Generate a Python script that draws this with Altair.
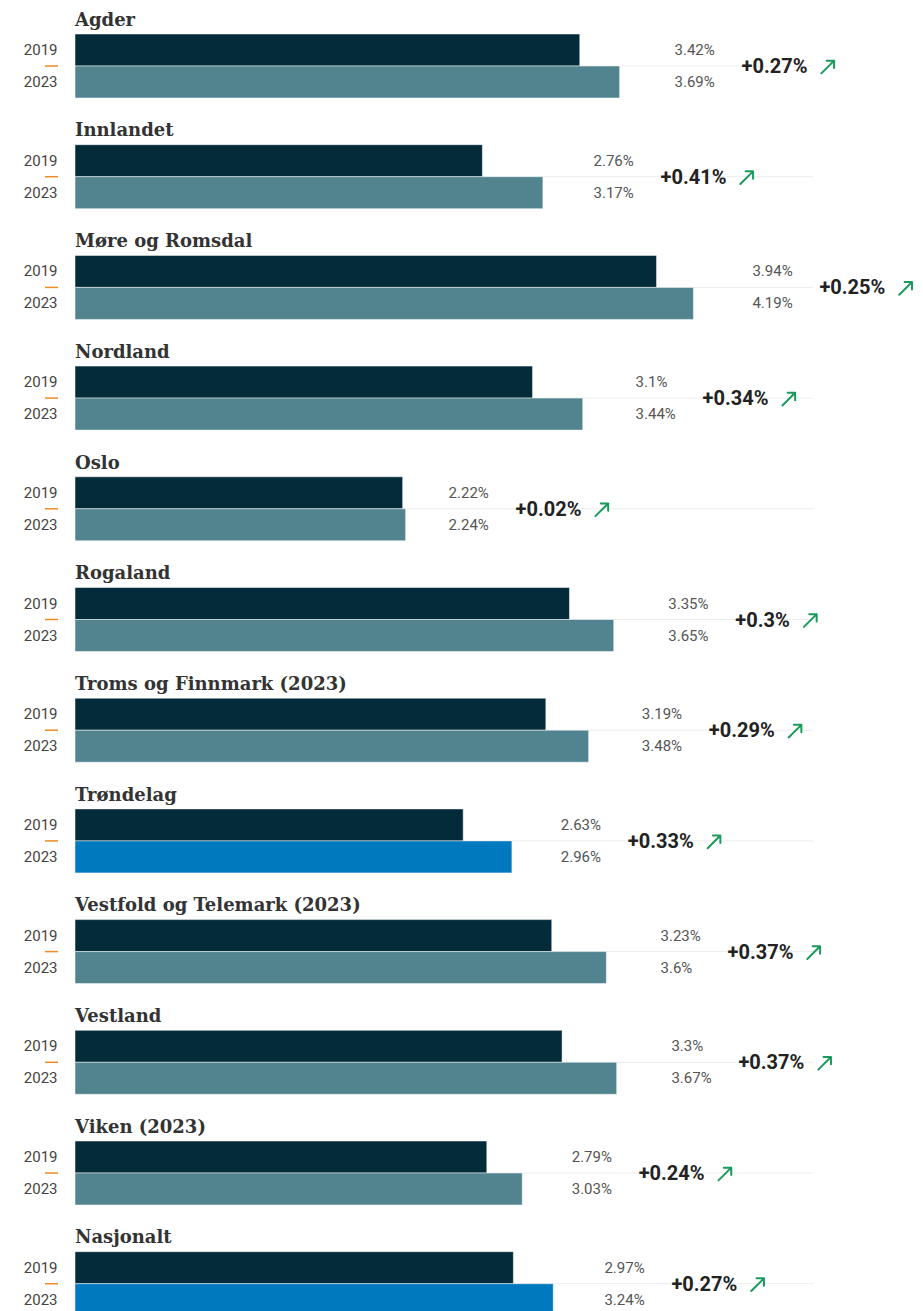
import altair as alt
import pandas as pd

regions = ["Agder", "Innlandet", "Møre og Romsdal", "Nordland", "Oslo", "Rogaland",
           "Troms og Finnmark (2023)", "Trøndelag", "Vestfold og Telemark (2023)",
           "Vestland", "Viken (2023)", "Nasjonalt"]
v2019 = [3.42, 2.76, 3.94, 3.1, 2.22, 3.35, 3.19, 2.63, 3.23, 3.3, 2.79, 2.97]
v2023 = [3.69, 3.17, 4.19, 3.44, 2.24, 3.65, 3.48, 2.96, 3.6, 3.67, 3.03, 3.24]
deltas = ["+0.27%", "+0.41%", "+0.25%", "+0.34%", "+0.02%", "+0.3%",
          "+0.29%", "+0.33%", "+0.37%", "+0.37%", "+0.24%", "+0.27%"]
years = ["2019", "2023"]
highlight = ["Trøndelag", "Nasjonalt"]

C19 = "#042b3a"
C23 = "#528490"
CHL = "#0079bf"

W = 738
H = 64
PX = W / 5.0
ARROW = "M -0.9 0.9 L 0.9 -0.9 M -0.15 -0.9 L 0.9 -0.9 L 0.9 0.15"

rows = []
for r, a, b, d in zip(regions, v2019, v2023, deltas):
    for y, v in zip(years, [a, b]):
        key = y
        if y == "2023" and r in highlight:
            key = "hl"
        rows.append({"region": r, "year": y, "value": v, "v2023": b,
                     "label": f"{v}%", "delta": d, "key": key})
df = pd.DataFrame(rows)

charts = []
for r in regions:
    sub = df[df.region == r]
    base = alt.Chart(sub).transform_calculate(
        labX="datum.v2023*1.0556 + 0.1667"
    ).transform_calculate(
        arrowX=f"datum.labX + (11.2*length(datum.delta) + 86)/{PX}"
    )
    yenc = alt.Y("year:N", sort=years,
                 scale=alt.Scale(paddingInner=0, paddingOuter=0),
                 axis=alt.Axis(title=None, domain=False, ticks=False,
                               labelFontSize=15, labelColor="#444",
                               labelFont="Roboto", labelPadding=18,
                               minExtent=67, maxExtent=67))
    xscale = alt.Scale(domain=[0, 5], nice=False)

    grid = base.transform_filter("datum.year == '2019'").mark_rule(
        color="#ececec", strokeWidth=1
    ).encode(x=alt.value(0), x2=alt.value(W), y=alt.value(H / 2))

    dash = base.transform_filter("datum.year == '2019'").mark_rule(
        color="#f08a24", strokeWidth=1.5
    ).encode(x=alt.value(-30), x2=alt.value(-17), y=alt.value(H / 2))

    bars = base.mark_bar(stroke="white", strokeWidth=0.5).encode(
        x=alt.X("value:Q", scale=xscale, axis=None),
        y=yenc,
        color=alt.Color("key:N", scale=alt.Scale(domain=["2019", "2023", "hl"],
                                                  range=[C19, C23, CHL]),
                        legend=None),
    )

    vals = base.mark_text(align="left", baseline="middle", font="Roboto",
                          fontSize=15, color="#555").encode(
        x=alt.X("labX:Q", scale=xscale, axis=None),
        y=yenc,
        text="label:N",
    )

    delta = base.transform_filter("datum.year == '2019'").mark_text(
        align="left", baseline="middle", font="Roboto", fontSize=20,
        fontWeight="bold", color="#222", dx=67
    ).encode(
        x=alt.X("labX:Q", scale=xscale, axis=None),
        y=alt.value(H / 2 + 1),
        text="delta:N",
    )

    arrow = base.transform_filter("datum.year == '2019'").mark_point(
        shape=ARROW, filled=False, stroke="#1a9a5c", strokeWidth=2,
        strokeJoin="round", strokeCap="round", size=200, opacity=1
    ).encode(
        x=alt.X("arrowX:Q", scale=xscale, axis=None),
        y=alt.value(H / 2 + 1),
    )

    ch = alt.layer(grid, dash, bars, vals, delta, arrow).properties(
        width=W, height=H,
        title=alt.TitleParams(text=r, anchor="start", frame="group",
                              font="DejaVu Serif", fontSize=18,
                              fontWeight="bold", color="#333", offset=4),
    )
    charts.append(ch)

chart = alt.vconcat(*charts, spacing=22.7).properties(
    padding={"top": 3, "left": 0, "right": 0, "bottom": 5}
).configure(
    background="white",
    view=alt.ViewConfig(stroke=None),
)

chart.save("out.html", embed_options={"renderer": "svg", "actions": False})
